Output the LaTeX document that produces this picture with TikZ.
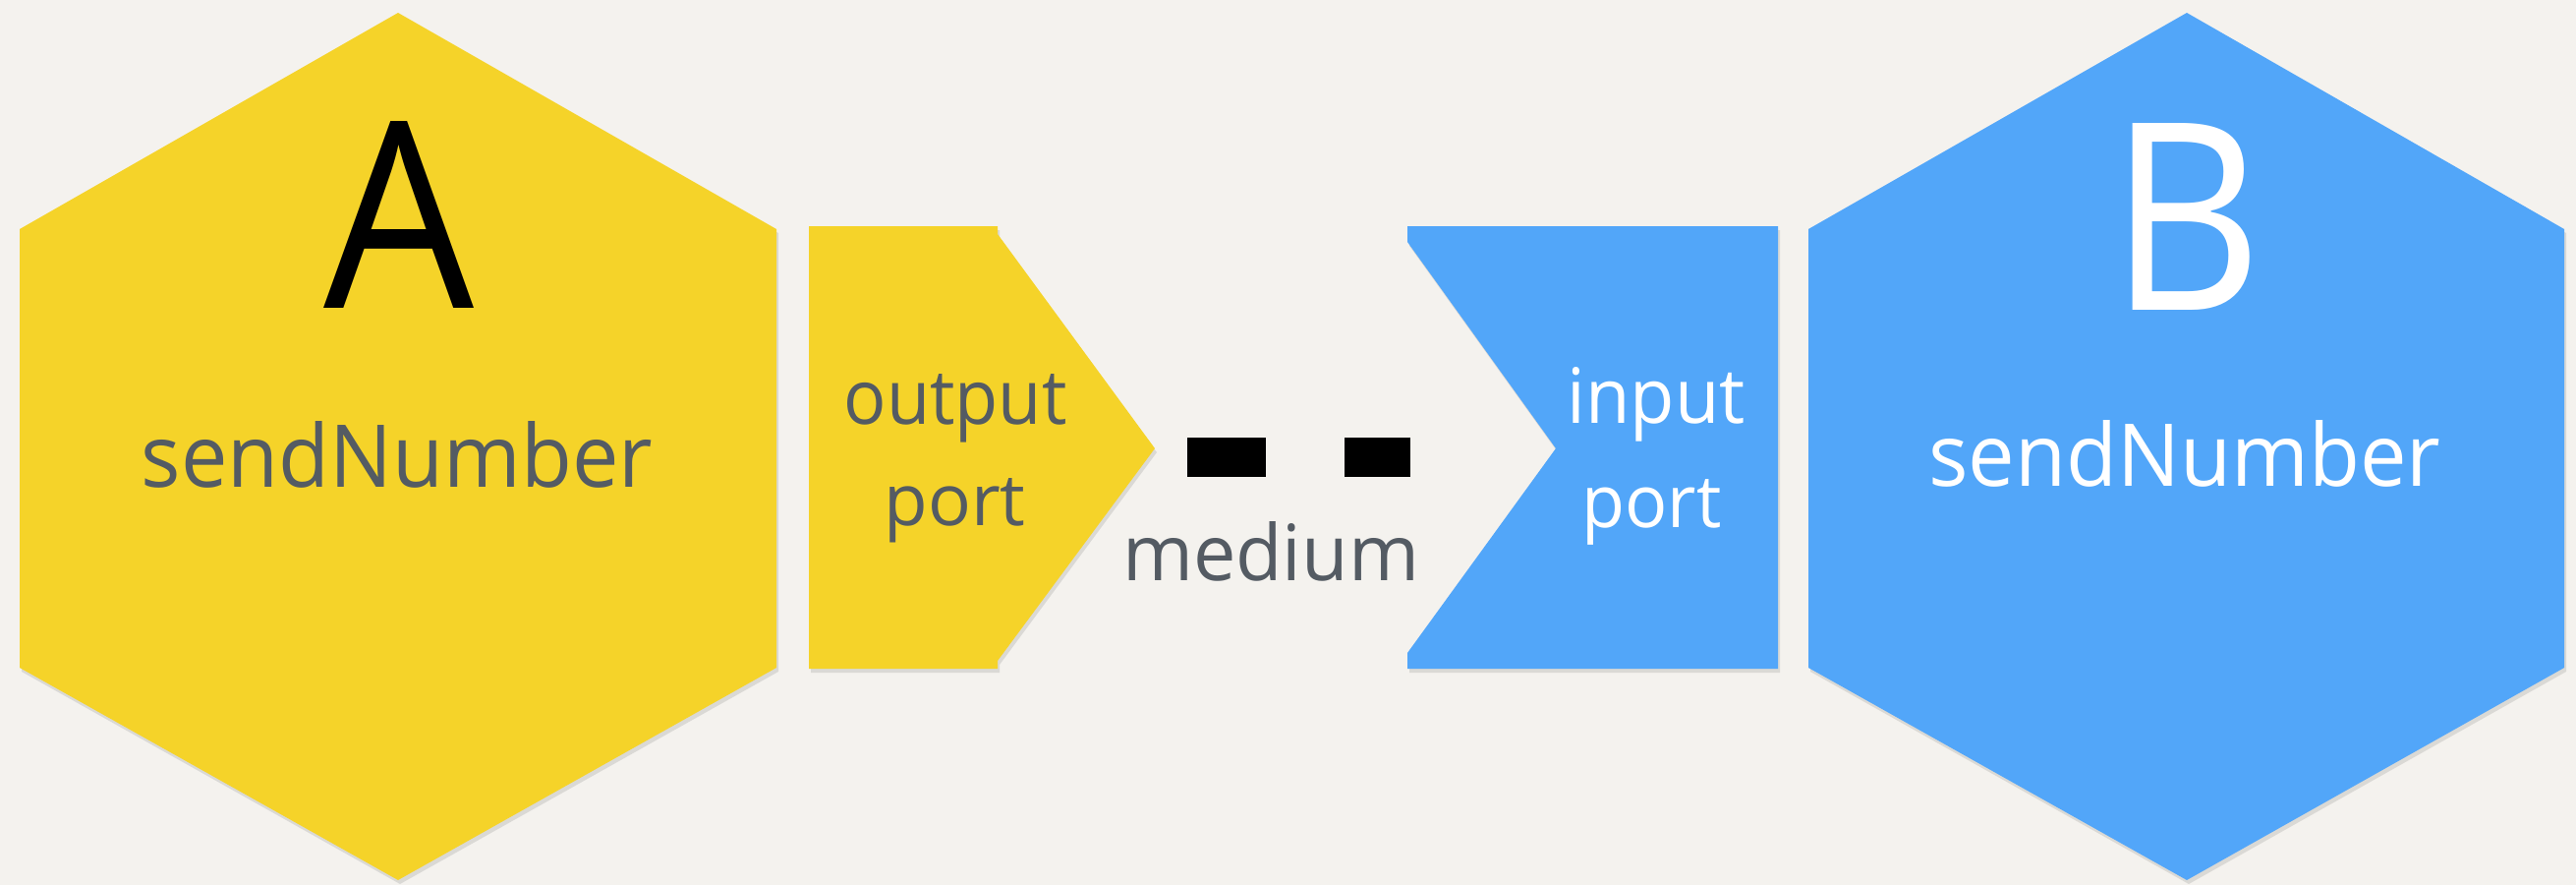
\documentclass[tikz,border=0pt]{standalone}
\usepackage{graphicx}
\usepackage{fontspec}
\setmainfont{Open Sans}
\usetikzlibrary{shadows}
\definecolor{bgc}{HTML}{F4F2EE}
\definecolor{yel}{HTML}{F5D329}
\definecolor{blu}{HTML}{52A6F9}
\definecolor{txtg}{HTML}{545B63}
\newcommand{\fitwh}[3]{\resizebox{#1pt}{#2pt}{#3}}
\tikzset{
  shp/.style={draw=none, drop shadow={shadow xshift=2pt, shadow yshift=-4pt, opacity=0.15, fill=black!70}},
  bigletter/.style={anchor=base, inner sep=0pt, font=\fontsize{266}{266}\selectfont},
  procname/.style={anchor=base, inner sep=0pt, font=\fontsize{94}{94}\selectfont},
  porttext/.style={anchor=base, inner sep=0pt, font=\fontsize{80}{80}\selectfont},
  medtext/.style={anchor=base, inner sep=0pt, font=\fontsize{88}{88}\selectfont},
  wire/.style={line width=40pt, dash pattern=on 80pt off 80pt, black}
}
\begin{document}
\begin{tikzpicture}[x=1pt,y=-1pt]
\fill[bgc] (0,0) rectangle (2621,900);
\useasboundingbox (0,0) rectangle (2621,900);
% hexagon A
\path[shp, fill=yel] (405,13) -- (790,233) -- (790,679) -- (405,895) -- (20,679) -- (20,233) -- cycle;
% output port
\path[shp, fill=yel] (823,230) -- (1015,230) -- (1015,238) -- (1175,456) -- (1015,672) -- (1015,680) -- (823,680) -- cycle;
% input port
\path[shp, fill=blu] (1432,230) -- (1809,230) -- (1809,680) -- (1432,680) -- (1432,664) -- (1583,456) -- (1432,246) -- cycle;
% hexagon B
\path[shp, fill=blu] (2225,13) -- (2609,233) -- (2609,679) -- (2225,895) -- (1840,679) -- (1840,233) -- cycle;
% texts
\node[bigletter, black] (lA) at (405.5,313) {\fitwh{153}{190}{A}};
\node[procname, txtg] (nA) at (404,495) {\fitwh{520}{67}{sendNumber}};
\node[porttext, txtg] (op1) at (972,431) {\fitwh{227}{51}{output}};
\node[porttext, txtg] (op2) at (971.5,534) {\fitwh{144}{48}{port}};
\node[medtext, txtg] (med) at (1293,590) {\fitwh{302}{60}{medium}};
\node[porttext, white] (ip1) at (1685,430) {\fitwh{181}{57}{input}};
\node[porttext, white] (ip2) at (1680.5,536) {\fitwh{142}{49}{port}};
\node[bigletter, white] (lB) at (2224,315) {\fitwh{156}{190}{B}};
\node[procname, white] (nB) at (2223,494) {\fitwh{521}{67}{sendNumber}};
% medium
\coordinate (m1) at (1208,465);
\coordinate (m2) at (1435,465);
\draw[wire] (m1) -- (m2);
\end{tikzpicture}
\end{document}
